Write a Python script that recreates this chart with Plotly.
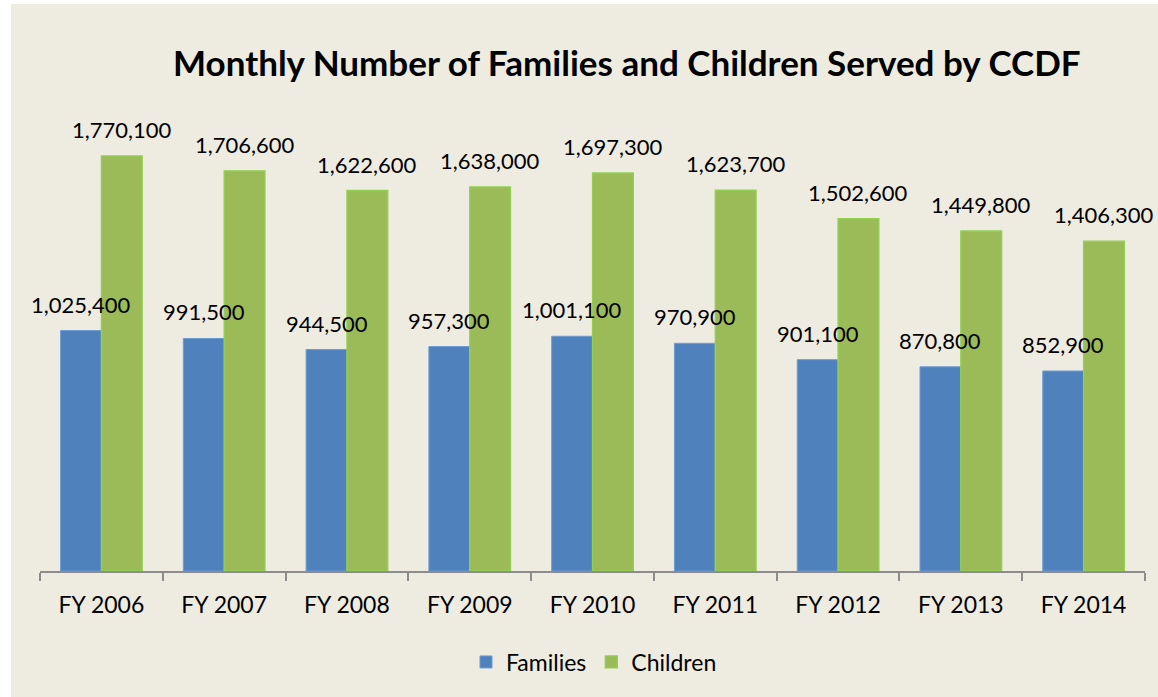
import plotly.graph_objects as go

categories = ["FY 2006", "FY 2007", "FY 2008", "FY 2009", "FY 2010",
              "FY 2011", "FY 2012", "FY 2013", "FY 2014"]
families = [1025400, 991500, 944500, 957300, 1001100, 970900, 901100, 870800, 852900]
children = [1770100, 1706600, 1622600, 1638000, 1697300, 1623700, 1502600, 1449800, 1406300]

FONT = "Lato"
BLUE = "#4F81BD"
GREEN = "#9BBB59"
BG = "#EEEBE1"

W, H = 1158, 697
L, R, T, B = 40, 13, 102, 126
PW, PH = W - L - R, H - T - B

fig = go.Figure()
fig.add_trace(go.Bar(name="Families", x=categories, y=families,
                     marker=dict(color=BLUE, line=dict(color="#6F9BD3", width=1))))
fig.add_trace(go.Bar(name="Children", x=categories, y=children,
                     marker=dict(color=GREEN, line=dict(color="#92D050", width=1.3))))

half = PW / len(categories) * (1 - 0.335) / 4
annotations = []
for c, f, ch in zip(categories, families, children):
    annotations.append(dict(x=c, y=f, text=f"{f:,}", showarrow=False, xshift=-half,
                            yanchor="bottom", yshift=11,
                            font=dict(family=FONT, size=22, color="#000")))
    annotations.append(dict(x=c, y=ch, text=f"{ch:,}", showarrow=False, xshift=half,
                            yanchor="bottom", yshift=11,
                            font=dict(family=FONT, size=22, color="#000")))

annotations.append(dict(text="<b>Monthly Number of Families and Children Served by CCDF</b>",
                        xref="paper", yref="paper", x=(627 - L) / PW, y=(571 - 62) / PH,
                        xanchor="center", yanchor="middle", showarrow=False,
                        font=dict(family=FONT, size=35, color="#000")))

fig.update_layout(
    width=W, height=H,
    margin=dict(l=L, r=R, t=T, b=B, autoexpand=False),
    paper_bgcolor="white",
    plot_bgcolor="rgba(0,0,0,0)",
    barmode="group",
    bargap=0.335,
    bargroupgap=0,
    annotations=annotations,
    shapes=[dict(type="rect", xref="paper", yref="paper", layer="below",
                 x0=(11 - L) / PW, x1=(W - L) / PW,
                 y0=(571 - 697) / PH, y1=(571 - 4) / PH,
                 fillcolor=BG, line=dict(width=0))],
    showlegend=True,
    legend=dict(orientation="h", x=(594 - L) / PW, y=(571 - 662) / PH,
                xanchor="center", yanchor="middle",
                font=dict(family=FONT, size=23, color="#000"),
                bgcolor="rgba(0,0,0,0)", itemwidth=30, traceorder="normal"),
    xaxis=dict(showline=True, linecolor="#8C8C8C", linewidth=1.5,
               range=[-0.5, 8.5], automargin=False,
               ticks="outside", tickson="boundaries", ticklen=8, tickcolor="#8C8C8C",
               tickwidth=1.5, ticklabelstandoff=13,
               tickfont=dict(family=FONT, size=23, color="#000"),
               showgrid=False, zeroline=False, fixedrange=True),
    yaxis=dict(visible=False, range=[0, 2000000], showgrid=False, zeroline=False,
               automargin=False),
)

fig.write_html("out.html")
